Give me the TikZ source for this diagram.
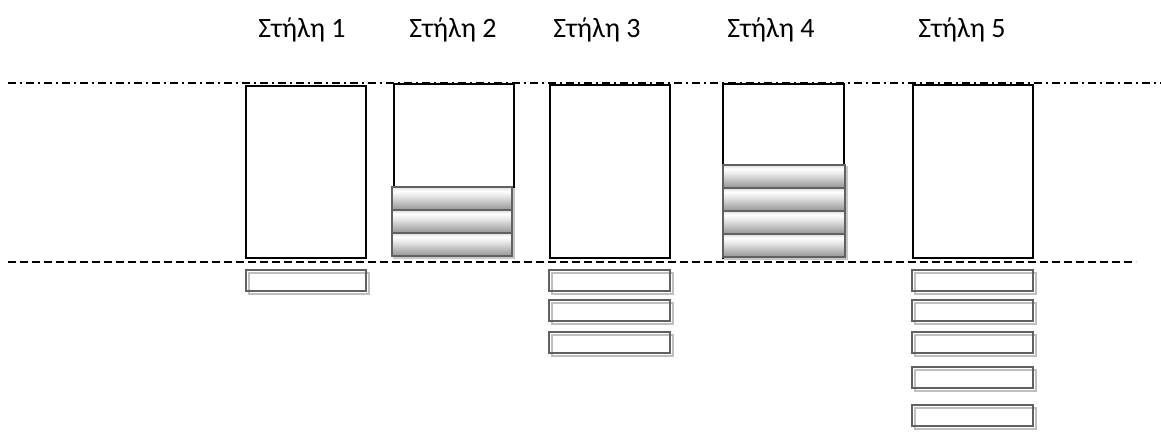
\documentclass[tikz,border=0pt]{standalone}
\usepackage{fontspec}
\setmainfont{Carlito}
% light band near the top, darkening towards the bottom edge
\pgfdeclareverticalshading{barshade}{100bp}{%
  color(0bp)=(black!42); color(25bp)=(black!42); color(55bp)=(black!10);
  color(67bp)=(white); color(75bp)=(black!14); color(100bp)=(black!14)}
\begin{document}
\begin{tikzpicture}[x=1pt,y=-1pt,
  collabel/.style={font=\fontsize{28}{32}\selectfont, inner sep=0pt, anchor=base},
  colframe/.style={draw=black, line width=1.6pt, fill=white},
  stackfill/.style={shading=barshade},
  stackbar/.style={draw=black!62, line width=2.4pt},
  stackshadow/.style={draw=black!22, line width=2pt},
  slotbar/.style={draw=black!62, line width=2.2pt},
  slotshadow/.style={draw=black!25, line width=2pt},
  levelline/.style={line width=1.4pt, dash pattern=on 8pt off 4pt},
  limitline/.style={line width=1.4pt, dash pattern=on 8pt off 4pt on 2pt off 4pt}]
\useasboundingbox (0,0) rectangle (1161,431);

% column headings
\node[collabel] (h1) at (302,37) {Στήλη 1};
\node[collabel] (h2) at (453,37) {Στήλη 2};
\node[collabel] (h3) at (597,37) {Στήλη 3};
\node[collabel] (h4) at (771,37) {Στήλη 4};
\node[collabel] (h5) at (962,37) {Στήλη 5};

% upper limit and base level
\coordinate (topL) at (8,83);
\coordinate (topR) at (1161,83);
\coordinate (baseL) at (8,262);
\coordinate (baseR) at (1136,262);
\draw[limitline] (topL) -- (topR);
\draw[levelline] (baseL) -- (baseR);

% column frames
\draw[colframe] (246,86) rectangle (366,258);
\draw[colframe] (394,84) rectangle (514,258);
\draw[colframe] (550,85) rectangle (670,258);
\draw[colframe] (723,84) rectangle (844,258);
\draw[colframe] (913,85) rectangle (1033,258);

% stacked items inside a column: x-left, x-right, top y
\newcommand\stackitem[3]{%
  \draw[stackshadow] (#1+2,#3+2) rectangle (#2+2,#3+25);
  \shade[stackfill] (#1,#3) rectangle (#2,#3+23);
  \draw[stackbar] (#1,#3) rectangle (#2,#3+23);}
% column 2
\stackitem{392}{512}{187}
\stackitem{392}{512}{210}
\stackitem{392}{512}{233}
% column 4
\stackitem{723}{845}{165}
\stackitem{723}{845}{188}
\stackitem{723}{845}{211}
\stackitem{723}{845}{234}

% loose items below the base level: x-left, x-right, top y
\newcommand\slotitem[3]{%
  \draw[slotshadow] (#1+3,#3+3) rectangle (#2+3,#3+24);
  \draw[slotbar] (#1,#3) rectangle (#2,#3+21);}
% column 1
\slotitem{246}{366}{270}
% column 3
\slotitem{549}{670}{270}
\slotitem{549}{670}{300}
\slotitem{549}{670}{332}
% column 5
\slotitem{912}{1033}{270}
\slotitem{912}{1033}{300}
\slotitem{912}{1033}{332}
\slotitem{912}{1033}{367}
\slotitem{912}{1033}{405}
\end{tikzpicture}
\end{document}
